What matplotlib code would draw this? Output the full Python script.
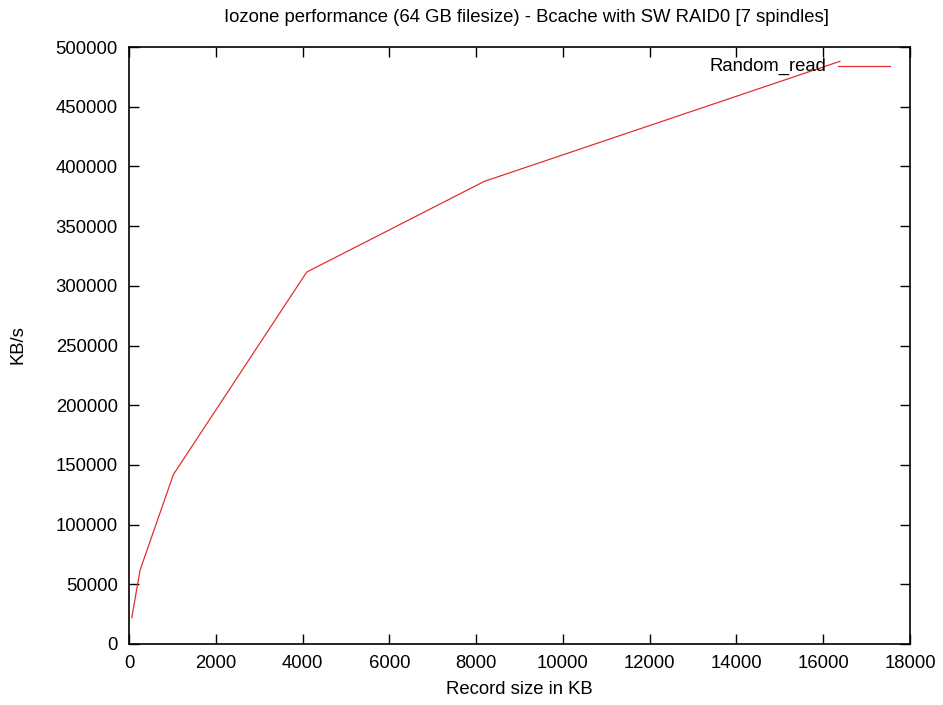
import matplotlib
matplotlib.use('Agg')
import matplotlib.pyplot as plt
from matplotlib.lines import Line2D

# record size (KB) and throughput (KB/s)
record_kb = [64, 256, 1024, 4096, 8192, 16384]
random_read = [22000, 62000, 142000, 311500, 387500, 488000]

W, H = 943, 705
FS = 13.3
RED = '#e03030'

plt.rcParams.update({
    'font.family': ['Liberation Sans', 'DejaVu Sans'],
    'font.size': FS,
})

fig = plt.figure(figsize=(W / 100, H / 100), dpi=100)
ax = fig.add_axes([129 / W, 1 - 644 / H, 781 / W, 597 / H])

ax.plot(record_kb, random_read, color=RED, lw=0.9)

ax.set_xlim(0, 18000)
ax.set_ylim(0, 500000)
ax.set_xticks(range(0, 18001, 2000))
ax.set_yticks(range(0, 500001, 50000))
ax.tick_params(direction='in', length=7, width=1, top=True, right=True,
               labelsize=FS, pad=8, color='black')
for s in ax.spines.values():
    s.set_linewidth(1.2)

fig.text(526 / W, 1 - 18 / H,
         'Iozone performance (64 GB filesize) - Bcache with SW RAID0 [7 spindles]',
         ha='center', va='center', fontsize=FS)
fig.text(519 / W, 1 - 690 / H, 'Record size in KB',
         ha='center', va='center', fontsize=FS)
fig.text(18 / W, 1 - 345 / H, 'KB/s', rotation=90,
         ha='center', va='center', fontsize=FS)

# gnuplot-style key: text right aligned, sample line to its right
fig.text(826 / W, 1 - 66 / H, 'Random_read', ha='right', va='center', fontsize=FS)
fig.add_artist(Line2D([838 / W, 890 / W], [1 - 66 / H, 1 - 66 / H],
                      color=RED, lw=0.9, transform=fig.transFigure))

fig.savefig('out.png', dpi=100, facecolor='white')
